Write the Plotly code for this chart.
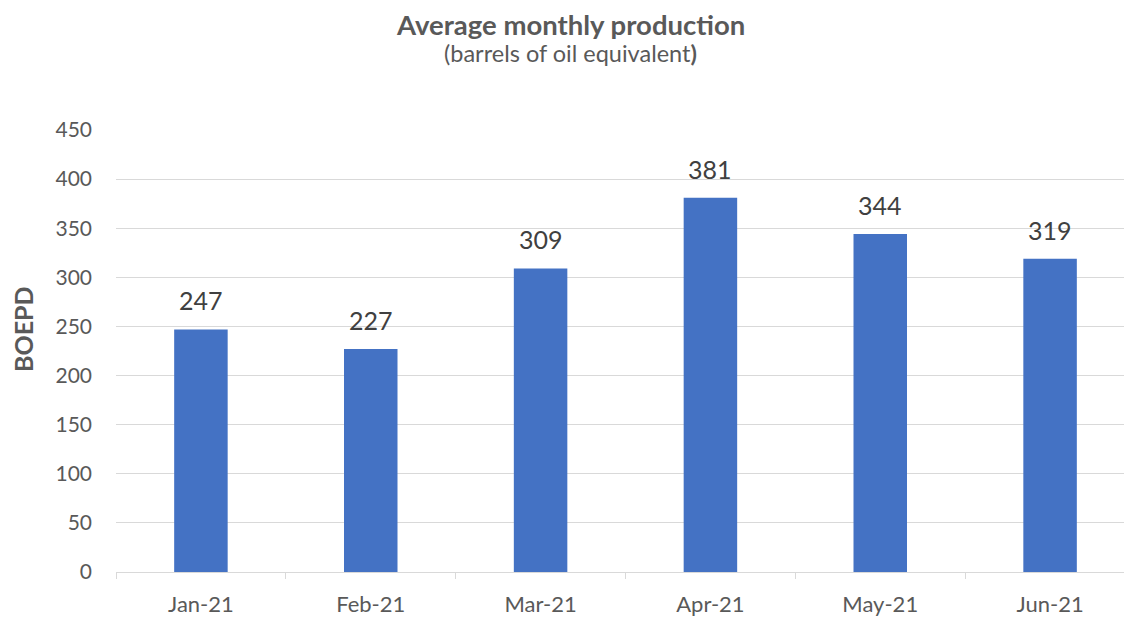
import plotly.graph_objects as go

months = ["Jan-21", "Feb-21", "Mar-21", "Apr-21", "May-21", "Jun-21"]
boepd = [247, 227, 309, 381, 344, 319]
y_ticks = [0, 50, 100, 150, 200, 250, 300, 350, 400, 450]

FONT = "Lato"
GRID = "#D9D9D9"
TXT = "#595959"

# plot area in page pixels: x 116..1135, y 130..572 (page has 8px body offset)
def py(pix):
    return (572 - pix) / 442.0

def px(pix):
    return (pix - 116) / 1019.0

fig = go.Figure(go.Bar(
    x=months, y=boepd, marker=dict(color="#4472C4", line=dict(width=0)),
    width=0.315, hoverinfo="x+y",
))

for m, v in zip(months, boepd):
    fig.add_annotation(x=m, y=v, text=str(v), showarrow=False, yanchor="middle",
                       yshift=29, font=dict(family=FONT, size=25, color="#404040"))

fig.add_annotation(xref="paper", yref="paper", x=px(570), y=py(25), text="<b>Average monthly production</b>",
                   showarrow=False, xanchor="center", yanchor="middle", borderpad=0,
                   font=dict(family=FONT, size=27.5, color=TXT))
fig.add_annotation(xref="paper", yref="paper", x=px(570), y=py(53), text="(barrels of oil equivalent<b>)</b>",
                   showarrow=False, xanchor="center", yanchor="middle",
                   font=dict(family=FONT, size=23.5, color=TXT))
fig.add_annotation(xref="paper", yref="paper", x=px(23), y=py(329), text="<b>BOEPD</b>",
                   showarrow=False, textangle=-90, xanchor="center", yanchor="middle",
                   font=dict(family=FONT, size=25, color=TXT))

fig.update_layout(
    width=1132, height=618,
    margin=dict(l=108, r=5, t=122, b=54),
    paper_bgcolor="white", plot_bgcolor="white",
    showlegend=False,
    font=dict(family=FONT, color=TXT),
    xaxis=dict(type="category", tickson="boundaries", ticks="outside", ticklen=6,
               tickcolor=GRID, showline=True, linecolor=GRID, linewidth=1,
               showgrid=False, tickfont=dict(size=22, color=TXT), ticklabelstandoff=13),
    yaxis=dict(range=[0, 450], tickvals=y_ticks, showgrid=True, gridcolor=GRID, gridwidth=1,
               zeroline=False, showline=False, ticks="", tickfont=dict(size=21, color=TXT),
               ticklabelstandoff=23),
)

fig.write_html("out.html")
